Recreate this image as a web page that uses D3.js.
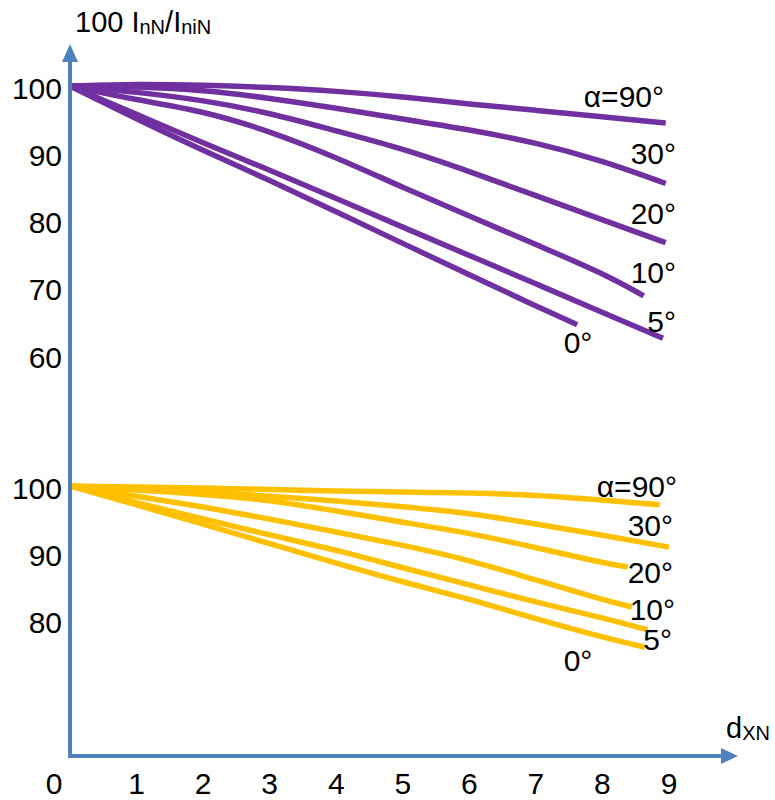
<!DOCTYPE html>
<html>
<head>
<meta charset="utf-8">
<script src="https://cdn.jsdelivr.net/npm/d3@7"></script>
<style>
  html, body { margin: 0; padding: 0; background: #fff; }
  svg { display: block; font-family: Arial, "Liberation Sans", sans-serif; }
</style>
</head>
<body>
<svg id="chart" width="775" height="800"></svg>
<script>
// Relative current 100·InN/IniN versus distance dXN for several angles α
const angleLabels = ["α=90°", "30°", "20°", "10°", "5°", "0°"];
const distanceSteps = [0, 1, 2, 3, 4, 5, 6, 7, 8];
const xTicks = [0, 1, 2, 3, 4, 5, 6, 7, 8, 9];
const upperTicks = [100, 90, 80, 70, 60];
const lowerTicks = [100, 90, 80];

// Upper family (purple): values at distanceSteps, then the final point
const upperValues = [
  [100, 100.3, 100.15, 99.8, 99.25, 98.4, 97.3, 96.4, 95.4],
  [100, 99.9, 99.4, 98.2, 96.7, 95.1, 93.5, 91.6, 88.9],
  [100, 99.1, 97.9, 96.0, 93.3, 90.7, 87.3, 83.7, 80.1],
  [100, 97.9, 96.3, 93.3, 89.4, 84.9, 80.7, 76.4, 72.2],
  [100, 95.8, 91.5, 87.5, 83.3, 79.0, 74.8, 70.6, 66.3],
  [100, 95.1, 90.4, 86.0, 81.3, 76.6, 71.9, 67.3]
];
const upperEndDistance = [8.95, 8.95, 8.95, 8.62, 8.91, 7.62];
const upperEndValue = [94.5, 85.5, 76.7, 68.8, 62.5, 64.5];

// Lower family (yellow)
const lowerValues = [
  [100, 99.85, 99.7, 99.5, 99.25, 99.1, 99.0, 98.65, 97.9],
  [100, 99.55, 99.1, 98.5, 97.8, 96.9, 96.0, 94.35, 92.7],
  [100, 99.4, 98.8, 97.9, 96.3, 94.6, 93.0, 90.85, 88.55],
  [100, 98.5, 96.9, 95.1, 93.15, 91.2, 89.0, 86.0, 83.1],
  [100, 97.5, 95.1, 92.7, 90.5, 87.8, 85.3, 82.7, 80.4],
  [100, 97.2, 94.35, 91.4, 88.5, 85.7, 83.2, 80.2, 77.5]
];
const lowerEndDistance = [8.86, 9.0, 8.38, 8.44, 8.68, 8.64];
const lowerEndValue = [97.2, 90.9, 87.95, 82.0, 78.6, 76.0];

const svg = d3.select("#chart");
const axisColor = "#4F81BD";
const fontSize = 30;

const x = d3.scaleLinear().domain([0, 9]).range([70, 669]);
const yUpper = d3.scaleLinear().domain([60, 100]).range([355, 86]);
const yLower = d3.scaleLinear().domain([80, 100]).range([620.4, 486]);

function seriesPoints(values, endD, endV) {
  const pts = values.map((v, i) => [distanceSteps[i], v]);
  pts.push([endD, endV]);
  return pts;
}

function drawFamily(y, valuesList, endD, endV, color) {
  const line = d3.line()
    .x(d => x(d[0]))
    .y(d => y(d[1]))
    .curve(d3.curveBasis);
  svg.append("g")
    .selectAll("path")
    .data(valuesList.map((vals, i) => seriesPoints(vals, endD[i], endV[i])))
    .join("path")
    .attr("d", line)
    .attr("fill", "none")
    .attr("stroke", color)
    .attr("stroke-width", 5.5)
    .attr("stroke-linecap", "butt");
}

drawFamily(yUpper, upperValues, upperEndDistance, upperEndValue, "#7030A0");
drawFamily(yLower, lowerValues, lowerEndDistance, lowerEndValue, "#FFC000");

// Angle labels beside the curve ends: [anchor, x, dy from curve end]
const upperLabelLayout = [
  ["end", 664, -26], ["end", 676, -30], ["end", 676, -29],
  ["end", 676, -23], ["end", 676, -17], ["middle", 578, 18]
];
const lowerLabelLayout = [
  ["end", 677, -18], ["end", 673, -22], ["end", 673, 6],
  ["end", 675, 3], ["end", 672, 10], ["middle", 578, 13]
];

function drawAngleLabels(y, endV, layout) {
  svg.append("g")
    .selectAll("text")
    .data(angleLabels)
    .join("text")
    .attr("x", (d, i) => layout[i][1])
    .attr("y", (d, i) => y(endV[i]) + layout[i][2])
    .attr("dy", "0.35em")
    .attr("text-anchor", (d, i) => layout[i][0])
    .attr("font-size", fontSize)
    .attr("fill", "#000")
    .text(d => d);
}
drawAngleLabels(yUpper, upperEndValue, upperLabelLayout);
drawAngleLabels(yLower, lowerEndValue, lowerLabelLayout);

// Y tick labels for both families
function drawYTicks(y, ticks) {
  svg.append("g")
    .selectAll("text")
    .data(ticks)
    .join("text")
    .attr("x", 62)
    .attr("y", d => y(d) + 2)
    .attr("dy", "0.35em")
    .attr("text-anchor", "end")
    .attr("font-size", fontSize)
    .attr("fill", "#000")
    .text(d => d);
}
drawYTicks(yUpper, upperTicks);
drawYTicks(yLower, lowerTicks);

// X tick labels
const axisY = 756;
svg.append("g")
  .selectAll("text")
  .data(xTicks)
  .join("text")
  .attr("x", d => d === 0 ? x(d) - 16 : x(d))
  .attr("y", 794)
  .attr("text-anchor", "middle")
  .attr("font-size", fontSize)
  .attr("fill", "#000")
  .text(d => d);

// Axes with arrow heads
const axes = svg.append("g");
axes.append("line")
  .attr("x1", x(0)).attr("y1", axisY + 2)
  .attr("x2", x(0)).attr("y2", 60)
  .attr("stroke", axisColor).attr("stroke-width", 4);
axes.append("line")
  .attr("x1", x(0) - 2).attr("y1", axisY)
  .attr("x2", 724).attr("y2", axisY)
  .attr("stroke", axisColor).attr("stroke-width", 4);
axes.append("path")
  .attr("d", `M${x(0)},44 L${x(0) - 8},62 L${x(0) + 8},62 Z`)
  .attr("fill", axisColor);
axes.append("path")
  .attr("d", `M738,${axisY} L721,${axisY - 8} L721,${axisY + 8} Z`)
  .attr("fill", axisColor);

// Axis titles
const yTitle = svg.append("text")
  .attr("x", 75).attr("y", 32)
  .attr("font-size", 29)
  .attr("fill", "#000");
yTitle.append("tspan").text("100 I");
yTitle.append("tspan").attr("font-size", 20).attr("dy", 2).text("nN");
yTitle.append("tspan").attr("dy", -2).text("/I");
yTitle.append("tspan").attr("font-size", 20).attr("dy", 2).text("niN");

const xTitle = svg.append("text")
  .attr("x", 726).attr("y", 738)
  .attr("font-size", 29)
  .attr("fill", "#000");
xTitle.append("tspan").text("d");
xTitle.append("tspan").attr("font-size", 20).attr("dy", 2).text("XN");
</script>
</body>
</html>
